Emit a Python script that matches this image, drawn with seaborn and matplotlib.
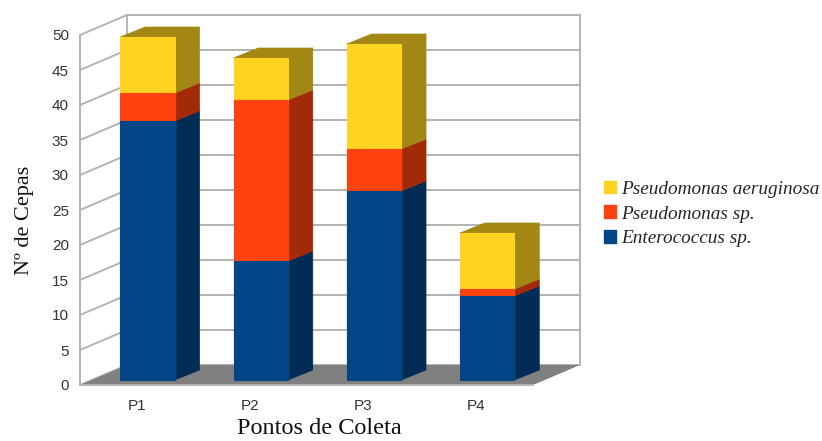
import numpy as np
import pandas as pd
import matplotlib
matplotlib.use("Agg")
import matplotlib.pyplot as plt
from matplotlib.patches import Patch
import seaborn as sns

# DATA
pontos = ["P1", "P2", "P3", "P4"]
enterococcus = [37, 17, 27, 12]
pseudomonas_sp = [4, 23, 6, 1]
aeruginosa = [8, 6, 15, 8]
y_ticks = [0, 5, 10, 15, 20, 25, 30, 35, 40, 45, 50]

# CONFIG
nomes = ["Enterococcus sp.", "Pseudomonas sp.", "Pseudomonas aeruginosa"]
cores = ["#004586", "#ff420e", "#ffd320"]
cores_lado = ["#002c56", "#a32a09", "#a38714"]
GRADE = "#b3b3b3"
# profundidade da caixa 3D, em unidades dos eixos (47 px e 20 px)
DX = 47 / (453 / 4)
DY = 20 / 7
BARRA = 0.48

sns.set_theme(style="white")
plt.rcParams["font.family"] = ["Liberation Sans", "DejaVu Sans"]

df = pd.DataFrame({"ponto": pontos, nomes[0]: enterococcus, nomes[1]: pseudomonas_sp, nomes[2]: aeruginosa})
acum = df[nomes].cumsum(axis=1)

fig = plt.figure(figsize=(8.22, 4.41), dpi=100)
ax = fig.add_axes([80 / 822, (441 - 385) / 441, 453 / 822, 350 / 441])

# barras frontais, da maior (topo) para a menor
for nome, cor in zip(nomes[::-1], cores[::-1]):
    sns.barplot(x=df["ponto"], y=acum[nome], color=cor, saturation=1, width=BARRA, ax=ax, zorder=4)

# move as barras para o meio da caixa
sx, sy = DX * 0.23, DY * 0.25
for p in ax.patches:
    p.set_x(p.get_x() + sx)
    p.set_y(sy)
    p.set_linewidth(0.8)
    p.set_edgecolor(p.get_facecolor())

ax.set_xlim(-0.5, 3.5)
ax.set_ylim(0, 50)

# paredes e grade
for t in y_ticks:
    ax.plot([-0.5, -0.5 + DX], [t, t + DY], color=GRADE, lw=1.4, clip_on=False, zorder=1)
    ax.plot([-0.5 + DX, 3.5 + DX], [t + DY, t + DY], color=GRADE, lw=1.4, clip_on=False, zorder=1)
ax.plot([-0.5, -0.5], [0, 50], color=GRADE, lw=1.4, clip_on=False, zorder=1)
ax.plot([-0.5 + DX, -0.5 + DX], [DY, 50 + DY], color=GRADE, lw=1.4, clip_on=False, zorder=1)
ax.plot([3.5 + DX, 3.5 + DX], [DY, 50 + DY], color=GRADE, lw=1.4, clip_on=False, zorder=1)
ax.plot([-0.5, 3.5], [0, 0], color=GRADE, lw=1.4, clip_on=False, zorder=2)

# chao
ax.fill([-0.5, 3.5, 3.5 + DX, -0.5 + DX], [0, 0, DY, DY], color="#808080", lw=0, clip_on=False, zorder=1.5)

# faces laterais e topo
lx, ly = DX * 0.53, DY * 0.5
for i in range(len(pontos)):
    x1 = i + BARRA / 2 + sx
    x0 = i - BARRA / 2 + sx
    base = 0
    for nome, lado in zip(nomes, cores_lado):
        topo = acum[nome][i]
        ax.fill([x1, x1 + lx, x1 + lx, x1],
                [base + sy, base + sy + ly, topo + sy + ly, topo + sy],
                color=lado, lw=0.5, clip_on=False, zorder=3)
        base = topo
    ax.fill([x0, x1, x1 + lx, x0 + lx],
            [topo + sy, topo + sy, topo + sy + ly, topo + sy + ly],
            color=cores_lado[2], lw=0.5, clip_on=False, zorder=3)

# eixos
sns.despine(ax=ax, left=True, bottom=True, top=True, right=True)
ax.patch.set_alpha(0)
ax.set_yticks(y_ticks)
ax.set_xticks(range(len(pontos)))
ax.set_xticklabels(pontos)
ax.tick_params(axis="both", length=0, labelsize=11, labelcolor="#333333")
ax.tick_params(axis="y", pad=8)
ax.tick_params(axis="x", pad=10)
ax.set_xlabel("")
ax.set_ylabel("")

fig.text(24 / 822, 1 - 220 / 441, "Nº de Cepas", rotation=90, ha="center", va="center",
         family="Liberation Serif", fontsize=16, color="#111111")
fig.text(319 / 822, 1 - 428 / 441, "Pontos de Coleta", ha="center", va="center",
         family="Liberation Serif", fontsize=17.5, color="#111111")

# legenda
handles = [Patch(facecolor=c, edgecolor=c, label=n) for c, n in zip(cores[::-1], nomes[::-1])]
ax.legend(handles=handles, loc="center left", bbox_to_anchor=(604 / 822, 1 - 214 / 441),
          bbox_transform=fig.transFigure, frameon=False, handlelength=0.62, handleheight=0.62,
          handletextpad=0.26, labelspacing=0.4, borderpad=0, borderaxespad=0,
          prop={"family": "Liberation Serif", "style": "italic", "size": 13.9})

fig.savefig("out.png", dpi=100)
